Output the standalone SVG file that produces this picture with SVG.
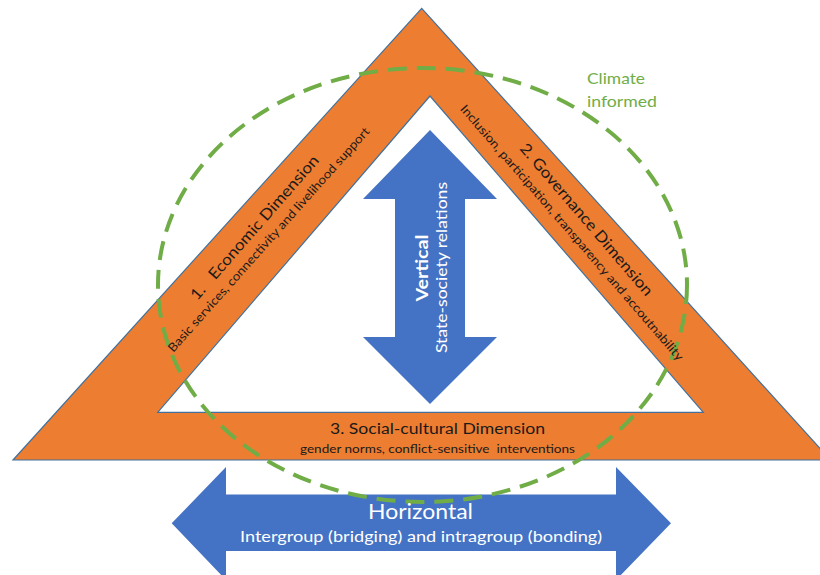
<svg xmlns="http://www.w3.org/2000/svg" width="820" height="575" viewBox="0 0 820 575">
<style>
.t{font-family:Lato,"Liberation Sans",sans-serif;}
.dark{fill:#1a1a1a;}
.white{fill:#ffffff;}
.green{fill:#70AD47;}
.band{fill:#ED7D31;stroke:#41719C;stroke-width:1.2;fill-rule:evenodd;}
.arrow{fill:#4472C4;}
</style>
<rect width="820" height="575" fill="#ffffff"/>
<g id="triangle">
<path class="band" d="M421.7,8.3 L830.5,460 L13,460 Z M430,96 L157.7,412.3 L703.3,412.3 Z"/>
</g>
<g id="vertical">
<path class="arrow" d="M430,130 L497,199 L465,199 L465,337 L497,337 L430,404 L363,337 L395,337 L395,199 L363,199 Z"/>
</g>
<g id="horizontal">
<path class="arrow" d="M171.7,523.3 L226,467 L226,494.5 L616,494.5 L616,467 L671,523.3 L616,580 L616,551 L226,551 L226,580 Z"/>
</g>
<g id="climate">
<ellipse cx="422.5" cy="285" rx="264.5" ry="217" fill="none" stroke="#70AD47" stroke-width="4" stroke-dasharray="19 10"/>
<text class="t green" x="587" y="84" font-size="16" textLength="58" lengthAdjust="spacingAndGlyphs">Climate</text>
<text class="t green" x="587" y="106.5" font-size="16" textLength="70" lengthAdjust="spacingAndGlyphs">informed</text>
</g>
<g id="economic">
<text class="t dark" xml:space="preserve" transform="translate(258.5,231) rotate(-48.8)" text-anchor="middle" font-size="15.5" textLength="186" lengthAdjust="spacingAndGlyphs">1.   Economic Dimension</text>
<text class="t dark" transform="translate(271.7,242.4) rotate(-48.3)" text-anchor="middle" font-size="12" textLength="296" lengthAdjust="spacingAndGlyphs">Basic services, connectivity and livelihood support</text>
</g>
<g id="governance">
<text class="t dark" transform="translate(582.5,223) rotate(49.4)" text-anchor="middle" font-size="15.5" textLength="195" lengthAdjust="spacingAndGlyphs">2. Governance Dimension</text>
<text class="t dark" transform="translate(568.8,235.4) rotate(49.1)" text-anchor="middle" font-size="12" textLength="334" lengthAdjust="spacingAndGlyphs">Inclusion, participation, transparency and accoutnability</text>
</g>
<g id="social">
<text class="t dark" x="437.5" y="434" text-anchor="middle" font-size="15.5" textLength="215" lengthAdjust="spacingAndGlyphs">3. Social-cultural Dimension</text>
<text class="t dark" xml:space="preserve" x="437.5" y="453" text-anchor="middle" font-size="12" textLength="275" lengthAdjust="spacingAndGlyphs">gender norms, conflict-sensitive  interventions</text>
</g>
<g id="vertical-labels">
<text class="t white" transform="translate(428,268) rotate(-90)" text-anchor="middle" font-size="17" font-weight="bold" textLength="67" lengthAdjust="spacingAndGlyphs">Vertical</text>
<text class="t white" transform="translate(447,267.5) rotate(-90)" text-anchor="middle" font-size="15" textLength="171" lengthAdjust="spacingAndGlyphs">State-society relations</text>
</g>
<g id="horizontal-labels">
<text class="t white" x="420.5" y="519" text-anchor="middle" font-size="21" textLength="105" lengthAdjust="spacingAndGlyphs">Horizontal</text>
<text class="t white" x="421" y="541.5" text-anchor="middle" font-size="15" textLength="362" lengthAdjust="spacingAndGlyphs">Intergroup (bridging) and intragroup (bonding)</text>
</g>
</svg>
